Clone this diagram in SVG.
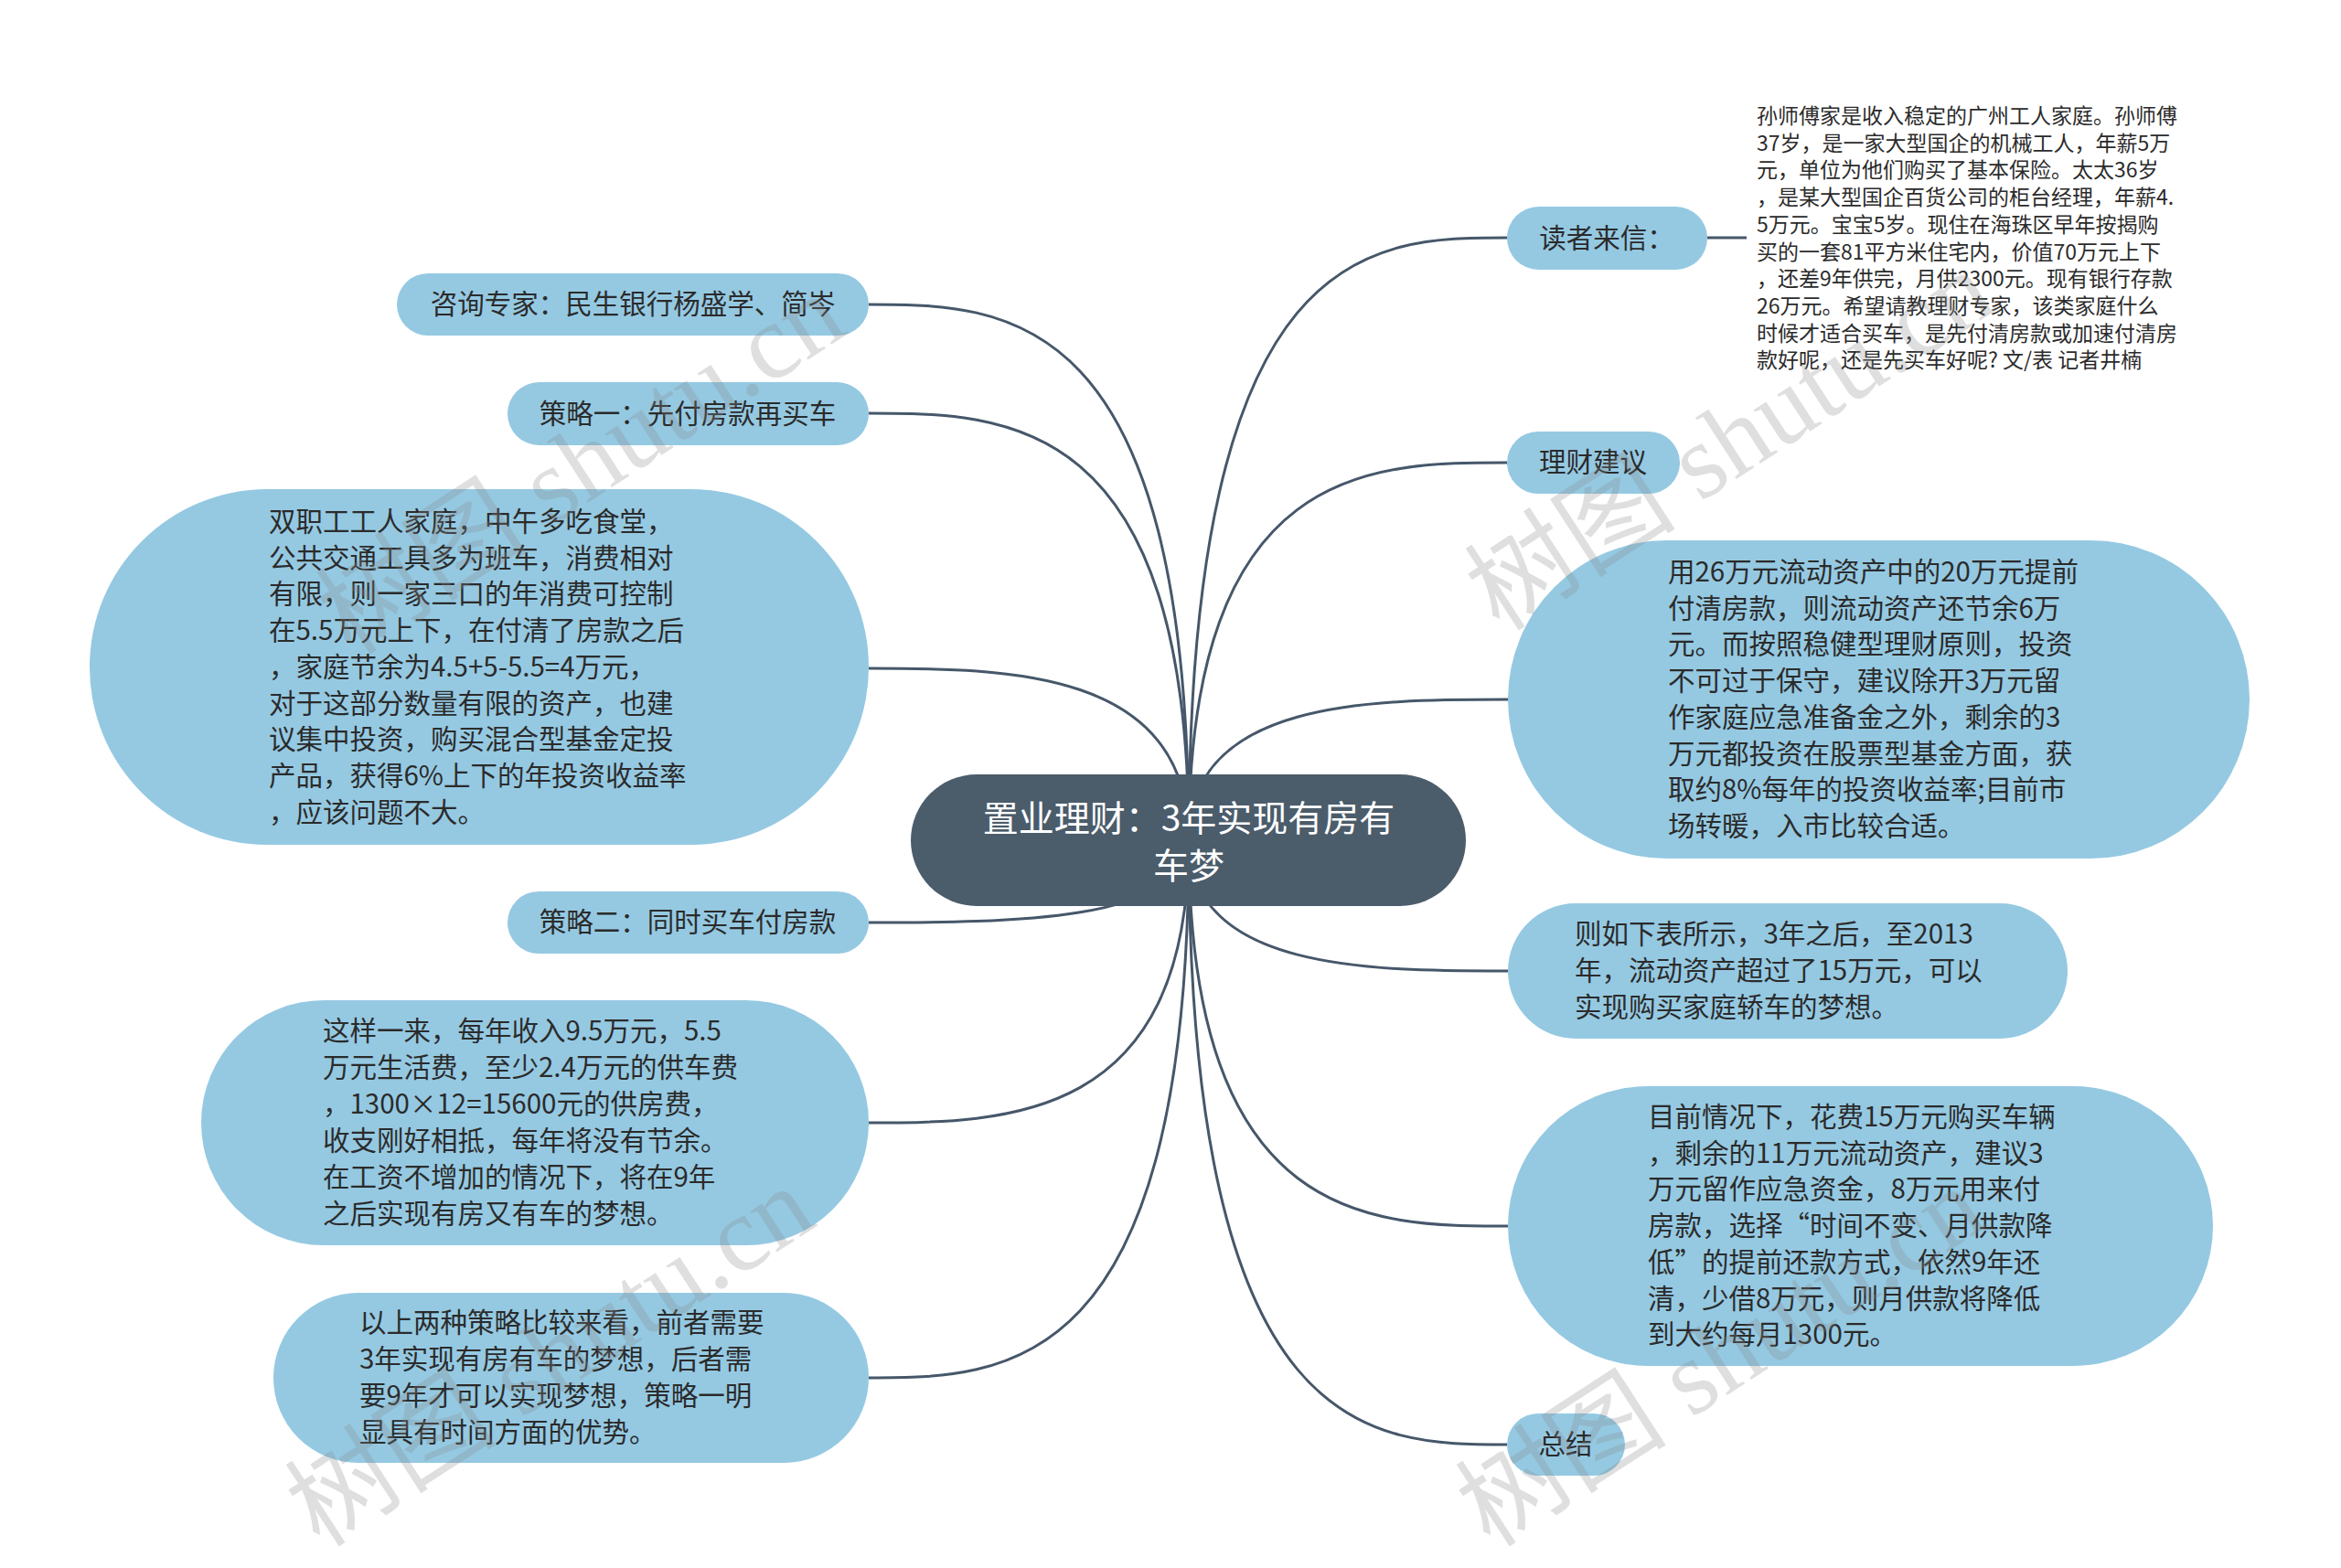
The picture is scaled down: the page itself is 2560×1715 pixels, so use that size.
<svg xmlns="http://www.w3.org/2000/svg" width="2560" height="1715" viewBox="0 0 2560 1715">
<style>
.n{fill:#95c9e2;}
.c{fill:#4b5c6b;}
.t{font-family:"Noto Sans CJK SC","Noto Sans",sans-serif;font-size:29.5px;fill:#2b2b2b;}
.tm{text-anchor:middle;}
.s{font-family:"Noto Sans CJK SC","Noto Sans",sans-serif;font-size:23px;fill:#2b2b2b;}
.ct{font-family:"Noto Sans CJK SC","Noto Sans",sans-serif;font-size:39px;fill:#ffffff;text-anchor:middle;}
.e{fill:none;stroke:#46576a;stroke-width:3;}
.w{font-family:"Liberation Serif","Noto Sans CJK SC",serif;font-size:116px;fill:#8a8a8a;fill-opacity:0.27;}
</style>
<rect width="2560" height="1715" fill="#ffffff"/>
<g id="connectors">
<path class="e" d="M1300,919 C1300,333 1100,333 950,333"/>
<path class="e" d="M1300,919 C1300,452 1100,452 950,452"/>
<path class="e" d="M1300,919 C1300,731 1100,731 950,731"/>
<path class="e" d="M1300,919 C1300,1009 1100,1009 950,1009"/>
<path class="e" d="M1300,919 C1300,1228 1100,1228 950,1228"/>
<path class="e" d="M1300,919 C1300,1507 1100,1507 950,1507"/>
<path class="e" d="M1300,919 C1300,260 1500,260 1648,260"/>
<path class="e" d="M1867,260 L1910,260"/>
<path class="e" d="M1300,919 C1300,506 1500,506 1648,506"/>
<path class="e" d="M1300,919 C1300,765 1500,765 1649,765"/>
<path class="e" d="M1300,919 C1300,1062 1500,1062 1649,1062"/>
<path class="e" d="M1300,919 C1300,1341 1500,1341 1649,1341"/>
<path class="e" d="M1300,919 C1300,1580 1500,1580 1648,1580"/>
</g>
<g id="root">
<rect class="c" x="996" y="847" width="607" height="144" rx="72"/>
<text class="ct" x="1300" y="909">置业理财：3年实现有房有</text>
<text class="ct" x="1300" y="961">车梦</text>
</g>
<g id="n-zixun">
<rect class="n" x="434" y="299" width="516" height="68" rx="34"/>
<text class="t tm" x="692" y="343">咨询专家：民生银行杨盛学、简岑</text>
</g>
<g id="n-celue1">
<rect class="n" x="555" y="418" width="395" height="69" rx="34.5"/>
<text class="t tm" x="752" y="463">策略一：先付房款再买车</text>
</g>
<g id="n-shuangzhi">
<rect class="n" x="98" y="535" width="852" height="389" rx="194.5"/>
<text class="t" x="294" y="581">双职工工人家庭，中午多吃食堂，</text>
<text class="t" x="294" y="620.7">公共交通工具多为班车，消费相对</text>
<text class="t" x="294" y="660.4">有限，则一家三口的年消费可控制</text>
<text class="t" x="294" y="700.1">在5.5万元上下，在付清了房款之后</text>
<text class="t" x="294" y="739.8">，家庭节余为4.5+5-5.5=4万元，</text>
<text class="t" x="294" y="779.5">对于这部分数量有限的资产，也建</text>
<text class="t" x="294" y="819.2">议集中投资，购买混合型基金定投</text>
<text class="t" x="294" y="858.9">产品，获得6%上下的年投资收益率</text>
<text class="t" x="294" y="898.6">，应该问题不大。</text>
</g>
<g id="n-celue2">
<rect class="n" x="555" y="975" width="395" height="68" rx="34"/>
<text class="t tm" x="752" y="1019">策略二：同时买车付房款</text>
</g>
<g id="n-zheyang">
<rect class="n" x="220" y="1094" width="730" height="268" rx="134"/>
<text class="t" x="353" y="1138">这样一来，每年收入9.5万元，5.5</text>
<text class="t" x="353" y="1178">万元生活费，至少2.4万元的供车费</text>
<text class="t" x="353" y="1218">，1300×12=15600元的供房费，</text>
<text class="t" x="353" y="1258">收支刚好相抵，每年将没有节余。</text>
<text class="t" x="353" y="1298">在工资不增加的情况下，将在9年</text>
<text class="t" x="353" y="1338">之后实现有房又有车的梦想。</text>
</g>
<g id="n-yishang">
<rect class="n" x="299" y="1414" width="651" height="186" rx="93"/>
<text class="t" x="393" y="1457">以上两种策略比较来看，前者需要</text>
<text class="t" x="393" y="1497">3年实现有房有车的梦想，后者需</text>
<text class="t" x="393" y="1537">要9年才可以实现梦想，策略一明</text>
<text class="t" x="393" y="1577">显具有时间方面的优势。</text>
</g>
<g id="n-duzhe">
<rect class="n" x="1648" y="226" width="219" height="69" rx="34.5"/>
<text class="t tm" x="1757" y="271">读者来信：</text>
</g>
<g id="n-duzhe-text">
<text class="s" x="1921" y="135">孙师傅家是收入稳定的广州工人家庭。孙师傅</text>
<text class="s" x="1921" y="164.7">37岁，是一家大型国企的机械工人，年薪5万</text>
<text class="s" x="1921" y="194.4">元，单位为他们购买了基本保险。太太36岁</text>
<text class="s" x="1921" y="224.1">，是某大型国企百货公司的柜台经理，年薪4.</text>
<text class="s" x="1921" y="253.8">5万元。宝宝5岁。现住在海珠区早年按揭购</text>
<text class="s" x="1921" y="283.5">买的一套81平方米住宅内，价值70万元上下</text>
<text class="s" x="1921" y="313.2">，还差9年供完，月供2300元。现有银行存款</text>
<text class="s" x="1921" y="342.9">26万元。希望请教理财专家，该类家庭什么</text>
<text class="s" x="1921" y="372.6">时候才适合买车，是先付清房款或加速付清房</text>
<text class="s" x="1921" y="402.3">款好呢，还是先买车好呢? 文/表 记者井楠</text>
</g>
<g id="n-licai">
<rect class="n" x="1648" y="472" width="189" height="68" rx="34"/>
<text class="t tm" x="1742" y="516">理财建议</text>
</g>
<g id="n-yong26">
<rect class="n" x="1649" y="591" width="811" height="348" rx="174"/>
<text class="t" x="1824" y="636">用26万元流动资产中的20万元提前</text>
<text class="t" x="1824" y="675.7">付清房款，则流动资产还节余6万</text>
<text class="t" x="1824" y="715.4">元。而按照稳健型理财原则，投资</text>
<text class="t" x="1824" y="755.1">不可过于保守，建议除开3万元留</text>
<text class="t" x="1824" y="794.8">作家庭应急准备金之外，剩余的3</text>
<text class="t" x="1824" y="834.5">万元都投资在股票型基金方面，获</text>
<text class="t" x="1824" y="874.2">取约8%每年的投资收益率;目前市</text>
<text class="t" x="1824" y="913.9">场转暖，入市比较合适。</text>
</g>
<g id="n-zeru">
<rect class="n" x="1649" y="988" width="612" height="148" rx="74"/>
<text class="t" x="1722" y="1032">则如下表所示，3年之后，至2013</text>
<text class="t" x="1722" y="1072">年，流动资产超过了15万元，可以</text>
<text class="t" x="1722" y="1112">实现购买家庭轿车的梦想。</text>
</g>
<g id="n-muqian">
<rect class="n" x="1649" y="1188" width="771" height="306" rx="153"/>
<text class="t" x="1802" y="1232">目前情况下，花费15万元购买车辆</text>
<text class="t" x="1802" y="1271.7">，剩余的11万元流动资产，建议3</text>
<text class="t" x="1802" y="1311.4">万元留作应急资金，8万元用来付</text>
<text class="t" x="1802" y="1351.1">房款，选择“时间不变、月供款降</text>
<text class="t" x="1802" y="1390.8">低”的提前还款方式，依然9年还</text>
<text class="t" x="1802" y="1430.5">清，少借8万元，则月供款将降低</text>
<text class="t" x="1802" y="1470.2">到大约每月1300元。</text>
</g>
<g id="n-zongjie">
<rect class="n" x="1648" y="1546" width="129" height="68" rx="34"/>
<text class="t tm" x="1712" y="1590">总结</text>
</g>
<g id="watermarks">
<text class="w" transform="translate(384,718) rotate(-33)">树图 shutu.cn</text>
<text class="w" transform="translate(1640,692) rotate(-33)">树图 shutu.cn</text>
<text class="w" transform="translate(350,1694) rotate(-33)">树图 shutu.cn</text>
<text class="w" transform="translate(1630,1694) rotate(-33)">树图 shutu.cn</text>
</g>
</svg>
